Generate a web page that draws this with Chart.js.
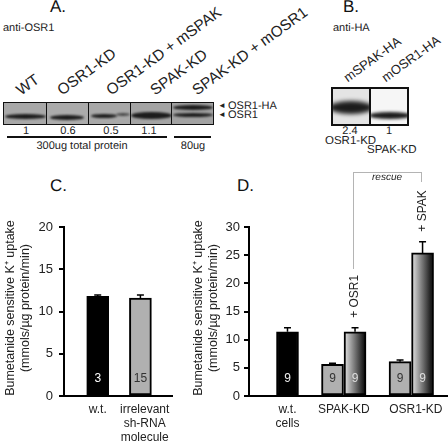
<!DOCTYPE html>
<html>
<head>
<meta charset="utf-8">
<script src="https://cdn.jsdelivr.net/npm/chart.js@4"></script>
<style>
html, body { margin: 0; padding: 0; background: #fff; }
#page { position: relative; width: 448px; height: 441px; overflow: hidden; font-family: "Liberation Sans", Arial, sans-serif; color: #222; background: #fff; filter: blur(0.35px); }
#page canvas { position: absolute; }
.t { position: absolute; white-space: nowrap; line-height: 1; text-rendering: geometricPrecision; }
.c { transform: translate(-50%, -50%); }
.rot { transform-origin: 0 100%; transform: rotate(-36deg); }
.panel { font-size: 17px; color: #111; }
.rule { position: absolute; background: #111; height: 2px; }
.blot { position: absolute; border: 1.5px solid #111; overflow: hidden; box-sizing: border-box; }
.lane { position: absolute; top: 0; bottom: 0; overflow: hidden; border-right: 1.5px solid #111; box-sizing: border-box; }
.lane:last-child { border-right: 0; }
.band { position: absolute; background: #1c1c1c; border-radius: 50%; filter: blur(1.2px); }
.br { position: absolute; background: #b4b4b4; }
</style>
</head>
<body>
<div id="page">
  <!-- panel A -->
  <div class="t panel" style="left:50px;top:-2px">A.</div>
  <div class="t" style="left:3px;top:23px;font-size:11px">anti-OSR1</div>
  <div class="t rot" style="left:23px;top:83px;font-size:15.3px">WT</div>
  <div class="t rot" style="left:64px;top:83px;font-size:15.3px">OSR1-KD</div>
  <div class="t rot" style="left:113px;top:83px;font-size:15.3px">OSR1-KD + mSPAK</div>
  <div class="t rot" style="left:157px;top:83px;font-size:15.3px">SPAK-KD</div>
  <div class="t rot" style="left:199px;top:83px;font-size:15.3px">SPAK-KD + mOSR1</div>
  <div class="blot" style="left:3px;top:102px;width:211px;height:23px;background:#a2a2a2">
    <div class="lane" style="left:0;width:43px;background:#a8a8a8"><div class="band" style="left:1px;top:11px;width:41px;height:5px"></div></div>
    <div class="lane" style="left:43px;width:42px;background:#ababab"><div class="band" style="left:3px;top:12px;width:34px;height:5px"></div></div>
    <div class="lane" style="left:85px;width:42px;background:#a8a8a8"><div class="band" style="left:2px;top:11px;width:26px;height:4px"></div><div class="band" style="left:27px;top:10px;width:14px;height:3px;opacity:.7"></div></div>
    <div class="lane" style="left:127px;width:41px;background:#a4a4a4"><div class="band" style="left:0;top:9px;width:41px;height:7px"></div></div>
    <div class="lane" style="left:168px;width:41px;background:#a2a2a2"><div class="band" style="left:1px;top:2px;width:40px;height:5px"></div><div class="band" style="left:1px;top:10px;width:40px;height:4px"></div></div>
  </div>
  <div class="t" style="left:218px;top:102px;font-size:8px">&#9668;</div>
  <div class="t" style="left:218px;top:111px;font-size:8px">&#9668;</div>
  <div class="t" style="left:228px;top:101px;font-size:11px">OSR1-HA</div>
  <div class="t" style="left:228px;top:110px;font-size:11px">OSR1</div>
  <div class="t c" style="left:26px;top:131px;font-size:11px">1</div>
  <div class="t c" style="left:68px;top:131px;font-size:11px">0.6</div>
  <div class="t c" style="left:111px;top:131px;font-size:11px">0.5</div>
  <div class="t c" style="left:149px;top:131px;font-size:11px">1.1</div>
  <div class="rule" style="left:7px;top:136px;width:160px"></div>
  <div class="rule" style="left:174px;top:136px;width:37px"></div>
  <div class="t c" style="left:82px;top:146px;font-size:11px">300ug total protein</div>
  <div class="t c" style="left:193px;top:146px;font-size:11px">80ug</div>

  <!-- panel B -->
  <div class="t panel" style="left:343px;top:-2px">B.</div>
  <div class="t" style="left:333px;top:23px;font-size:11px">anti-HA</div>
  <div class="t rot" style="left:349px;top:71px;font-size:13px">mSPAK-HA</div>
  <div class="t rot" style="left:387px;top:71px;font-size:13px">mOSR1-HA</div>
  <div class="blot" style="left:331px;top:87px;width:78px;height:39px;background:#eee;border-width:2px">
    <div class="lane" style="left:0;width:38px;background:#e4e4e4;border-right-width:2px"><div class="band" style="left:-4px;top:12px;width:44px;height:13px;filter:blur(2px)"></div></div>
    <div class="lane" style="left:38px;width:36px;background:#f6f6f6"><div class="band" style="left:-2px;top:23px;width:42px;height:7px;filter:blur(1.5px)"></div></div>
  </div>
  <div class="t c" style="left:350px;top:131px;font-size:11px">2.4</div>
  <div class="t c" style="left:389px;top:131px;font-size:11px">1</div>
  <div class="t" style="left:325px;top:136px;font-size:11.5px">OSR1-KD</div>
  <div class="t" style="left:367px;top:145px;font-size:11.5px">SPAK-KD</div>

  <!-- panels C and D -->
  <div class="t panel" style="left:50px;top:177px">C.</div>
  <div class="t panel" style="left:237px;top:177px">D.</div>
  <canvas id="chartC" width="210" height="241" style="left:0;top:200px;width:210px;height:241px"></canvas>
  <canvas id="chartD" width="260" height="281" style="left:188px;top:160px;width:260px;height:281px"></canvas>
  <div class="br" style="left:353px;top:172px;width:69px;height:1px"></div>
  <div class="br" style="left:353px;top:172px;width:1px;height:97px"></div>
  <div class="br" style="left:421px;top:172px;width:1px;height:10px"></div>
  <div class="t c" style="left:387px;top:178px;font-size:10px;font-style:italic">rescue</div>
</div>
<script>
const yTitle = ['\u00A0\u00A0Bumetanide sensitive K\u207A uptake', '\u00A0\u00A0(mmols/\u00B5g protein/min)'];

// panel C
const slotsC = [0, 1];
const valuesC = [11.8, 11.6];
const errorsC = [0.15, 0.35];
const countsC = ['3', '15'];
const fillsC = ['#000', '#b0b0b0'];
const inkC = ['#fff', '#333'];
const labelSlotsC = [0, 1.1];
const labelsC = ['w.t.', ['irrelevant', 'sh-RNA', 'molecule']];

// panel D
const slotsD = [0, 2, 3, 5, 6];
const valuesD = [11.4, 5.6, 11.4, 6.1, 25.4];
const errorsD = [0.7, 0.2, 0.7, 0.3, 2.0];
const countsD = ['9', '9', '9', '9', '9'];
const fillsD = ['#000', '#b0b0b0', 'fade', '#b0b0b0', 'fade'];
const inkD = ['#eee', '#333', '#ddd', '#333', '#ddd'];
const notesD = [null, null, '+ OSR1', null, '+ SPAK'];
const labelSlotsD = [0, 2.5, 5.7];
const labelsD = [['w.t.', 'cells'], 'SPAK-KD', 'OSR1-KD'];

const FONT = '"Liberation Sans", Arial, sans-serif';

// error bars, n counts and the rotated notes
const barExtras = {
    id: 'barExtras',
    afterDatasetsDraw(chart, args, opts) {
        const ctx = chart.ctx;
        const yScale = chart.scales.y;
        const bars = chart.getDatasetMeta(0).data;
        ctx.save();
        ctx.textAlign = 'center';
        ctx.textBaseline = 'middle';
        bars.forEach((bar, i) => {
            const top = yScale.getPixelForValue(opts.values[i] + opts.errors[i]);
            ctx.strokeStyle = '#000';
            ctx.lineWidth = 1.5;
            ctx.beginPath();
            ctx.moveTo(bar.x, bar.y);
            ctx.lineTo(bar.x, top);
            ctx.moveTo(bar.x - 3.5, top);
            ctx.lineTo(bar.x + 3.5, top);
            ctx.stroke();

            ctx.font = '12px ' + FONT;
            ctx.fillStyle = opts.ink[i];
            ctx.fillText(opts.counts[i], bar.x, yScale.getPixelForValue(0) - 17);

            if (opts.notes && opts.notes[i]) {
                ctx.save();
                ctx.translate(bar.x, top - 10);
                ctx.rotate(-Math.PI / 2);
                ctx.textAlign = 'left';
                ctx.fillStyle = '#222';
                ctx.fillText(opts.notes[i], 0, 0);
                ctx.restore();
            }
        });
        ctx.restore();
    }
};

function makePanel(id, cfg) {
    new Chart(document.getElementById(id), {
        type: 'bar',
        plugins: [barExtras],
        data: {
            datasets: [{
                data: cfg.slots.map((x, i) => ({ x: x, y: cfg.values[i] })),
                barThickness: 22,
                borderColor: '#000',
                borderWidth: 2,
                borderSkipped: false,
                backgroundColor: (c) => {
                    const fill = cfg.fills[c.dataIndex];
                    if (fill !== 'fade') return fill;
                    const x = c.chart.scales.x.getPixelForValue(cfg.slots[c.dataIndex]);
                    const grad = c.chart.ctx.createLinearGradient(x - 11, 0, x + 11, 0);
                    grad.addColorStop(0, '#e6e6e6');
                    grad.addColorStop(1, '#000');
                    return grad;
                }
            }]
        },
        options: {
            responsive: false,
            animation: false,
            layout: { padding: cfg.padding },
            plugins: {
                legend: { display: false },
                tooltip: { enabled: false },
                barExtras: { values: cfg.values, errors: cfg.errors, counts: cfg.counts, ink: cfg.ink, notes: cfg.notes }
            },
            scales: {
                x: {
                    type: 'linear',
                    bounds: 'data',
                    offset: false,
                    min: cfg.xMin,
                    max: cfg.xMax,
                    grid: { display: false },
                    border: { color: '#000', width: 2 },
                    afterBuildTicks: (s) => { s.ticks = cfg.labelSlots.map(v => ({ value: v })); },
                    afterFit: (s) => { s.height = 45; },
                    ticks: {
                        autoSkip: false,
                        maxRotation: 0,
                        padding: -1,
                        color: '#222',
                        font: { family: FONT, size: 12, lineHeight: 1.17 },
                        callback: (v, i) => cfg.labels[i]
                    }
                },
                y: {
                    min: 0,
                    max: cfg.yMax,
                    afterFit: (s) => { s.width = cfg.axisWidth; },
                    grid: { drawOnChartArea: false, color: '#000', lineWidth: 2, tickLength: 5 },
                    border: { color: '#000', width: 2 },
                    ticks: { stepSize: 5, padding: cfg.tickPad, color: '#222', font: { family: FONT, size: 13 } },
                    title: {
                        display: true,
                        text: yTitle,
                        color: '#222',
                        padding: { top: 3, bottom: 0 },
                        font: { family: FONT, size: 12.5, lineHeight: 1.2 }
                    }
                }
            }
        }
    });
}

makePanel('chartC', {
    slots: slotsC, values: valuesC, errors: errorsC, counts: countsC, fills: fillsC, ink: inkC,
    labelSlots: labelSlotsC, labels: labelsC,
    xMin: -0.79, xMax: 1.74, yMax: 20, axisWidth: 64, tickPad: 6,
    padding: { top: 27, right: 38, bottom: 0, left: 0 }
});

makePanel('chartD', {
    slots: slotsD, values: valuesD, errors: errorsD, counts: countsD, fills: fillsD, ink: inkD, notes: notesD,
    labelSlots: labelSlotsD, labels: labelsD,
    xMin: -1.71, xMax: 7.13, yMax: 30, axisWidth: 61, tickPad: 4,
    padding: { top: 67, right: 0, bottom: 0, left: 0 }
});
</script>
</body>
</html>
